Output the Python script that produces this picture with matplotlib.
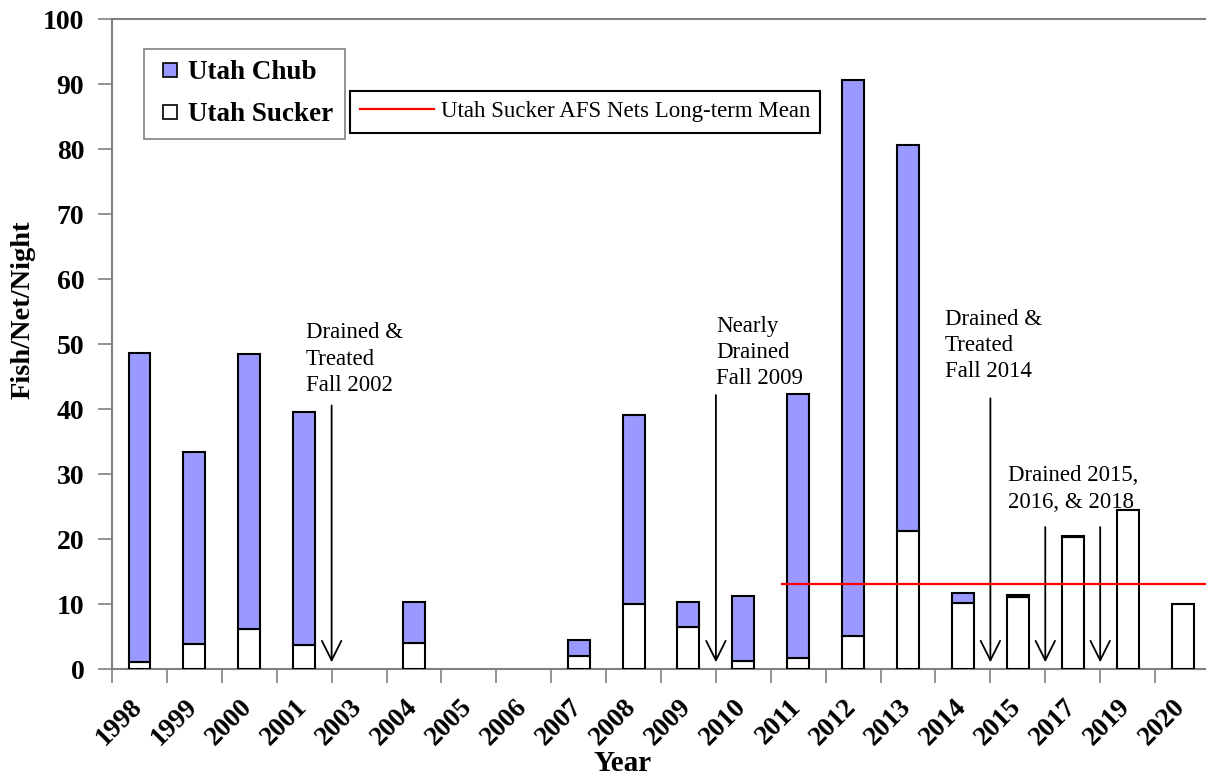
import matplotlib
matplotlib.use("Agg")
import matplotlib.pyplot as plt
from matplotlib.lines import Line2D

plt.rcParams['font.family'] = ['Liberation Serif', 'DejaVu Serif']

# survey years and catch rates (fish per net per night)
years = ['1998', '1999', '2000', '2001', '2003', '2004', '2005', '2006', '2007', '2008',
         '2009', '2010', '2011', '2012', '2013', '2014', '2015', '2017', '2019', '2020']
sucker = [1.1, 3.9, 6.3, 3.8, 0, 4.0, 0, 0, 2.0, 10.0,
          6.6, 1.35, 1.8, 5.15, 21.3, 10.3, 11.2, 20.3, 24.5, 10.05]
chub = [47.6, 29.5, 42.2, 35.8, 0, 6.4, 0, 0, 2.6, 29.2,
        3.8, 9.95, 40.5, 85.55, 59.4, 1.4, 0.25, 0.25, 0, 0]
sucker_mean = 13.2

# drain / treatment events: (text, text position, arrow x positions, arrow start)
events = [
    ("Drained &\nTreated\nFall 2002", (3.03, 53.4), [3.5], 40.6),
    ("Nearly\nDrained\nFall 2009", (10.5, 54.4), [10.5], 42.2),
    ("Drained &\nTreated\nFall 2014", (14.67, 55.5), [15.5], 41.7),
    ("Drained 2015,\n2016, & 2018", (15.82, 31.4), [16.5, 17.5], 21.9),
]

fig = plt.figure(figsize=(12.06, 7.78), dpi=100)
ax = fig.add_axes([0.0929, 0.1395, 0.9104, 0.8357])

x = list(range(len(years)))
# years with no catch get no bar at all
xs = [i for i in x if sucker[i] > 0]
ax.bar(xs, [sucker[i] for i in xs], width=0.4, color='white', edgecolor='black',
       linewidth=1.5, zorder=3)
xc = [i for i in x if chub[i] > 0]
ax.bar(xc, [chub[i] for i in xc], width=0.4, bottom=[sucker[i] for i in xc],
       color='#9999FF', edgecolor='black', linewidth=1.5, zorder=3)

ax.hlines(sucker_mean, 11.68, 19.5, color='red', linewidth=1.6, zorder=4)

for text, (tx, ty), arrow_xs, start in events:
    ax.text(tx, ty, text, fontsize=16.5, ha='left', va='top', linespacing=1.33)
    for ax_x in arrow_xs:
        ax.annotate('', xy=(ax_x, 1.1), xytext=(ax_x, start),
                    arrowprops=dict(arrowstyle='->,head_length=0.7,head_width=0.35',
                                    color='black', lw=1.3, mutation_scale=20,
                                    shrinkA=0, shrinkB=0))

ax.set_xlim(-0.5, 19.5)
ax.set_ylim(0, 100)
ax.set_yticks(range(0, 101, 10))
# year labels sit a little right of the bar centre, tick marks go on the boundaries
ax.set_xticks([i + 0.15 for i in x])
ax.set_xticklabels(years, rotation=45, ha='right', fontsize=19.5, fontweight='bold')
ax.set_xticks([i - 0.5 for i in range(len(years) + 1)], minor=True)
ax.tick_params(axis='x', which='major', length=0, pad=18)
ax.tick_params(axis='x', which='minor', length=10, width=1.2, color='#808080', direction='out')
ax.tick_params(axis='y', length=10, width=1.2, color='#808080', direction='out', pad=10)
for lab in ax.get_yticklabels():
    lab.set_fontsize(20)
    lab.set_fontweight('bold')

for side in ['left', 'bottom', 'top']:
    ax.spines[side].set_color('#808080')
    ax.spines[side].set_linewidth(1.5)
ax.spines['right'].set_visible(False)

fig.text(23 / 1206, 1 - 310 / 778, 'Fish/Net/Night', rotation=90, ha='center', va='center',
         fontsize=20.5, fontweight='bold')
fig.text(623 / 1206, 1 / 778, 'Year', ha='center', va='bottom',
         fontsize=21, fontweight='bold')

species_handles = [
    Line2D([0], [0], linestyle='none', marker='s', markersize=10, markerfacecolor='#9999FF',
           markeredgecolor='black', markeredgewidth=1.2, label='Utah Chub'),
    Line2D([0], [0], linestyle='none', marker='s', markersize=10, markerfacecolor='white',
           markeredgecolor='black', markeredgewidth=1.2, label='Utah Sucker'),
]
leg1 = ax.legend(handles=species_handles, loc='upper left',
                 bbox_to_anchor=(144 / 1206, 1 - 49 / 778), bbox_transform=fig.transFigure,
                 prop={'size': 19.5, 'weight': 'bold'}, fancybox=False, framealpha=1,
                 edgecolor='#808080', handlelength=1.1, handletextpad=0.1,
                 borderaxespad=0, borderpad=0.42, labelspacing=0.62)
leg1.get_frame().set_linewidth(1.2)
ax.add_artist(leg1)

mean_handle = [Line2D([0], [0], color='red', lw=1.6, label='Utah Sucker AFS Nets Long-term Mean')]
leg2 = ax.legend(handles=mean_handle, loc='upper left',
                 bbox_to_anchor=(350 / 1206, 1 - 91 / 778), bbox_transform=fig.transFigure,
                 prop={'size': 16.5}, fancybox=False, framealpha=1, edgecolor='black',
                 handlelength=3.2, handletextpad=0.3, borderaxespad=0, borderpad=0.45)
leg2.get_frame().set_linewidth(1.5)

fig.savefig('out.png', dpi=100)
